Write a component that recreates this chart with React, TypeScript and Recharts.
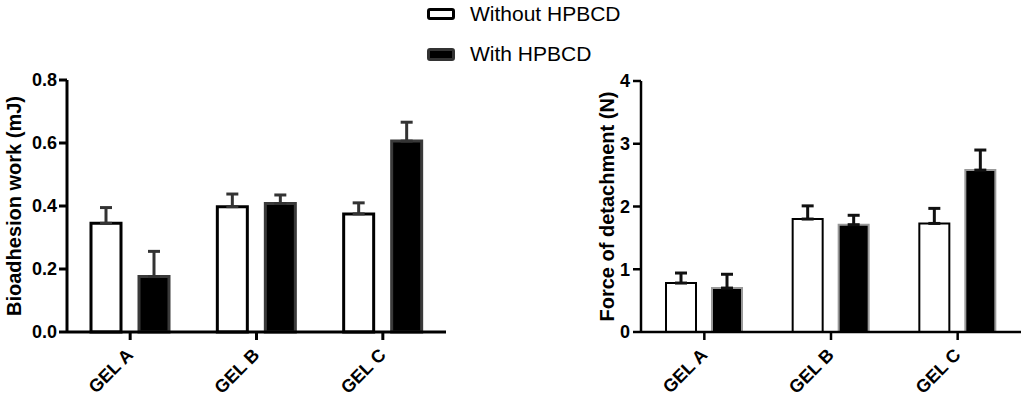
import { BarChart, Bar, XAxis, YAxis, ErrorBar } from "recharts";

// Group names along the x axis
const categories = ["GEL A", "GEL B", "GEL C"];

// Bioadhesion work (mJ), mean and upper SD
const workWithout = [0.345, 0.398, 0.375];
const workWithoutErr = [0.05, 0.04, 0.035];
const workWith = [0.176, 0.408, 0.606];
const workWithErr = [0.08, 0.027, 0.06];

// Force of detachment (N), mean and upper SD
const forceWithout = [0.78, 1.8, 1.73];
const forceWithoutErr = [0.16, 0.21, 0.24];
const forceWith = [0.7, 1.71, 2.58];
const forceWithErr = [0.22, 0.15, 0.32];

const workTicks = [0, 0.2, 0.4, 0.6, 0.8];
const forceTicks = [0, 1, 2, 3, 4];

const FONT = "'Liberation Sans', Arial, sans-serif";

const workData = categories.map((name, i) => ({
  name,
  without: workWithout[i],
  withCd: workWith[i],
  errWithout: [0, workWithoutErr[i]],
  errWith: [0, workWithErr[i]],
}));

const forceData = categories.map((name, i) => ({
  name,
  without: forceWithout[i],
  withCd: forceWith[i],
  errWithout: [0, forceWithoutErr[i]],
  errWith: [0, forceWithErr[i]],
}));

// rotated group label under each tick
const GelTick = (props: any) => {
  const { x, y, payload } = props;
  const ax = x + 4;
  const ay = y + 14;
  return (
    <text
      x={ax}
      y={ay}
      transform={`rotate(-45, ${ax}, ${ay})`}
      textAnchor="end"
      fontFamily={FONT}
      fontWeight="bold"
      fontSize={18}
      fill="#000"
    >
      {payload.value}
    </text>
  );
};

const yTickStyle = { fontFamily: FONT, fontWeight: "bold" as const, fontSize: 18, fill: "#000" };

export default function App() {
  return (
    <div
      style={{
        position: "absolute",
        left: 0,
        top: 0,
        width: 1024,
        height: 396,
        background: "#fff",
        fontFamily: FONT,
      }}
    >
      {/* legend */}
      <div style={{ position: "absolute", left: 427, top: 1, fontSize: 21, color: "#000" }}>
        <div style={{ display: "flex", alignItems: "center", height: 26 }}>
          <div
            style={{
              width: 22,
              height: 6,
              border: "3px solid #000",
              borderRadius: 3,
              background: "#fff",
              marginRight: 15,
            }}
          />
          <span>Without HPBCD</span>
        </div>
        <div style={{ display: "flex", alignItems: "center", height: 26, marginTop: 14 }}>
          <div
            style={{
              width: 22,
              height: 7,
              border: "3px solid #333",
              borderRadius: 3,
              background: "#000",
              marginRight: 15,
            }}
          />
          <span>With HPBCD</span>
        </div>
      </div>

      <div style={{ position: "absolute", left: 0, top: 0 }}>
        <BarChart
          width={480}
          height={396}
          data={workData}
          margin={{ top: 80, right: 34, bottom: 4, left: 0 }}
          barSize={30}
          barGap={18}
        >
          <XAxis
            dataKey="name"
            height={60}
            tick={<GelTick />}
            tickSize={8}
            axisLine={{ stroke: "#000", strokeWidth: 3 }}
            tickLine={{ stroke: "#000", strokeWidth: 3 }}
            interval={0}
          />
          <YAxis
            width={67}
            domain={[0, 0.8]}
            ticks={workTicks}
            tickFormatter={(v: number) => v.toFixed(1)}
            tick={yTickStyle}
            tickSize={8}
            tickMargin={2}
            axisLine={{ stroke: "#000", strokeWidth: 3 }}
            tickLine={{ stroke: "#000", strokeWidth: 3 }}
            label={{
              value: "Bioadhesion work (mJ)",
              angle: -90,
              position: "center",
              dx: -20,
              style: { fontFamily: FONT, fontWeight: "bold", fontSize: 20, fill: "#000" },
            }}
          />
          <Bar dataKey="without" fill="#fff" stroke="#000" strokeWidth={3} isAnimationActive={false}>
            <ErrorBar dataKey="errWithout" width={6} stroke="#333" strokeWidth={3} direction="y" />
          </Bar>
          <Bar dataKey="withCd" fill="#000" stroke="#3a3a3a" strokeWidth={3} isAnimationActive={false}>
            <ErrorBar dataKey="errWith" width={6} stroke="#333" strokeWidth={3} direction="y" />
          </Bar>
        </BarChart>
      </div>

      <div style={{ position: "absolute", left: 560, top: 0 }}>
        <BarChart
          width={464}
          height={396}
          data={forceData}
          margin={{ top: 81, right: 3, bottom: 4, left: 0 }}
          barSize={30}
          barGap={16}
        >
          <XAxis
            dataKey="name"
            height={60}
            tick={<GelTick />}
            tickSize={8}
            axisLine={{ stroke: "#000", strokeWidth: 2.5 }}
            tickLine={{ stroke: "#000", strokeWidth: 2.5 }}
            interval={0}
          />
          <YAxis
            width={81}
            domain={[0, 4]}
            ticks={forceTicks}
            tick={yTickStyle}
            tickSize={8}
            tickMargin={3}
            axisLine={{ stroke: "#000", strokeWidth: 2.5 }}
            tickLine={{ stroke: "#000", strokeWidth: 2.5 }}
            label={{
              value: "Force of detachment (N)",
              angle: -90,
              position: "center",
              dx: 6,
              style: { fontFamily: FONT, fontWeight: "bold", fontSize: 20, fill: "#000" },
            }}
          />
          <Bar dataKey="without" fill="#fff" stroke="#000" strokeWidth={2} isAnimationActive={false}>
            <ErrorBar dataKey="errWithout" width={6} stroke="#111" strokeWidth={3} direction="y" />
          </Bar>
          <Bar dataKey="withCd" fill="#000" stroke="#999" strokeWidth={2} isAnimationActive={false}>
            <ErrorBar dataKey="errWith" width={6} stroke="#111" strokeWidth={3} direction="y" />
          </Bar>
        </BarChart>
      </div>
    </div>
  );
}
